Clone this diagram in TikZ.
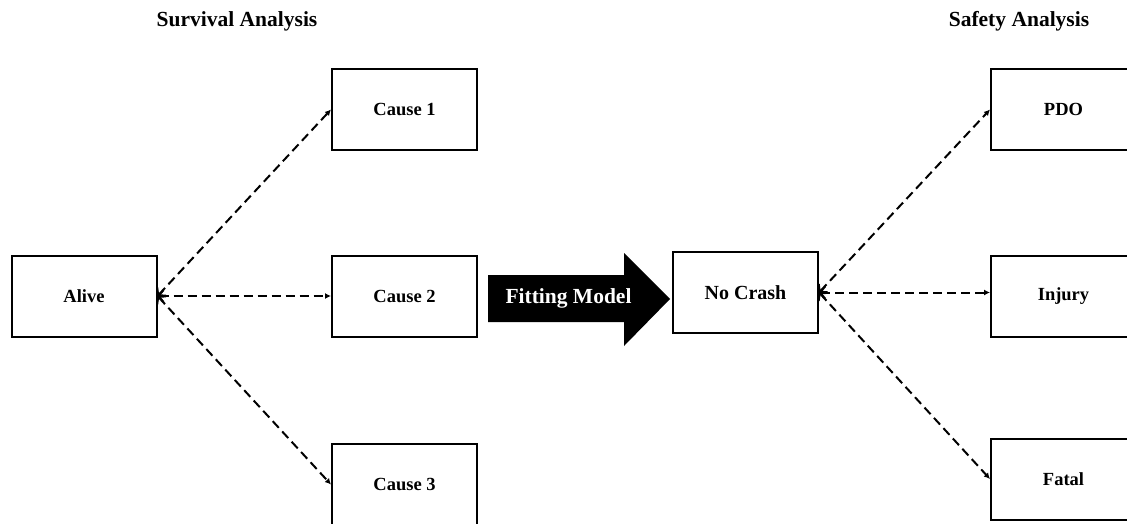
\documentclass[tikz,border=0pt]{standalone}
\usepackage{fontspec}
\setmainfont{Liberation Serif}
\usetikzlibrary{arrows.meta}
\tikzset{
  box/.style={draw, line width=2pt, minimum width=145pt, minimum height=81pt, inner sep=0pt, font=\bfseries\fontsize{18.5}{20}\selectfont},
  link/.style={line width=2pt, dash pattern=on 9pt off 5pt, {Straight Barb[length=5pt,width=12pt,line width=1.8pt]}-{Latex[length=6pt,width=6pt]}},
  title/.style={font=\bfseries\fontsize{21.5}{23}\selectfont}
}
\begin{document}
\begin{tikzpicture}[x=1pt,y=-1pt]
		\useasboundingbox (0,0) rectangle (1127,523);
		% left side
		\node[title] (survival) at (237,21) {Survival Analysis};
		\node[box] (alive) at (84,296) {Alive};
		\node[box] (cause1) at (404.5,109.5) {Cause 1};
		\node[box] (cause2) at (404.5,296.5) {Cause 2};
		\node[box] (cause3) at (404.5,484.5) {Cause 3};
		\draw[link] (alive.east) -- (cause1.west);
		\draw[link] (alive.east) -- (alive.east -| cause2.west);
		\draw[link] (alive.east) -- (cause3.west);
		% big arrow
		\fill (488,275) -- (624,275) -- (624,253) -- (670,299) -- (624,346) -- (624,322) -- (488,322) -- cycle;
		\node[title,text=white] (fitting) at (568.5,298) {Fitting Model};
		% right side
		\node[title] (safety) at (1019,21) {Safety Analysis};
		\node[box,font=\bfseries\fontsize{20}{22}\selectfont] (nocrash) at (745.5,292.5) {No Crash};
		\node[box] (pdo) at (1063.5,109.5) {PDO};
		\node[box] (injury) at (1063.5,296.5) {Injury};
		\node[box] (fatal) at (1063.5,479) {Fatal};
		\draw[link] (nocrash.east) -- (pdo.west);
		\draw[link] (nocrash.east) -- (nocrash.east -| injury.west);
		\draw[link] (nocrash.east) -- (fatal.west);
\end{tikzpicture}
\end{document}
